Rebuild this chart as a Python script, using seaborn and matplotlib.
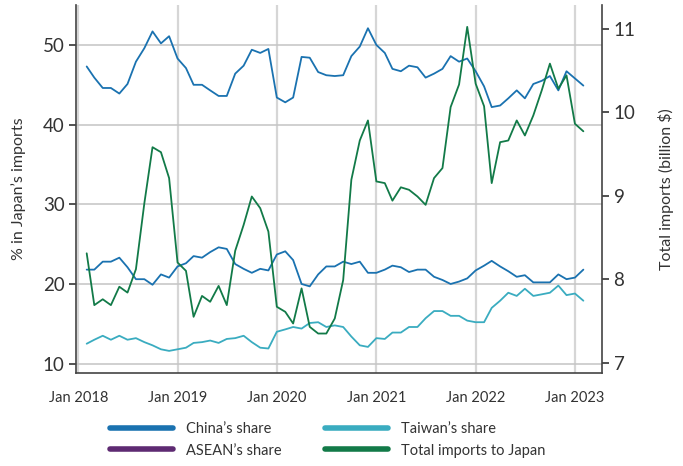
import pandas as pd
import matplotlib
matplotlib.use("Agg")
from matplotlib import pyplot as plt
import matplotlib.dates as mdates
from matplotlib.lines import Line2D
import seaborn as sns

# monthly data, Feb 2018 - Feb 2023
months = pd.date_range('2018-02-01', periods=61, freq='MS')

china = [47.3, 45.9, 44.6, 44.6, 43.9, 45.1, 47.9, 49.6, 51.7, 50.2, 51.1, 48.3,
         47.1, 45.0, 45.0, 44.3, 43.6, 43.6, 46.4, 47.4, 49.4, 49.0, 49.5, 43.4,
         42.8, 43.4, 48.5, 48.4, 46.6, 46.2, 46.1, 46.2, 48.6, 49.8, 52.1, 50.0,
         49.0, 47.0, 46.7, 47.4, 47.2, 45.9, 46.4, 47.0, 48.6, 47.9, 48.3, 46.7,
         44.8, 42.2, 42.4, 43.3, 44.3, 43.3, 45.1, 45.5, 46.1, 44.3, 46.7, 45.8, 44.9]

asean = [21.8, 21.8, 22.8, 22.8, 23.3, 22.1, 20.6, 20.6, 19.9, 21.2, 20.8, 22.2,
         22.6, 23.5, 23.3, 24.0, 24.6, 24.4, 22.5, 21.9, 21.4, 21.9, 21.7, 23.7,
         24.1, 23.0, 20.0, 19.7, 21.2, 22.2, 22.2, 22.8, 22.5, 22.8, 21.4, 21.4,
         21.8, 22.3, 22.1, 21.5, 21.8, 21.8, 20.9, 20.5, 20.0, 20.3, 20.7, 21.7,
         22.3, 22.9, 22.2, 21.6, 20.9, 21.1, 20.2, 20.2, 20.2, 21.2, 20.6, 20.8, 21.8]

taiwan = [12.5, 13.0, 13.5, 13.0, 13.5, 13.0, 13.2, 12.7, 12.3, 11.8, 11.6, 11.8,
          12.0, 12.6, 12.7, 12.9, 12.6, 13.1, 13.2, 13.5, 12.7, 12.0, 11.9, 14.0,
          14.3, 14.6, 14.4, 15.1, 15.2, 14.6, 14.8, 14.6, 13.4, 12.3, 12.1, 13.2,
          13.1, 13.9, 13.9, 14.6, 14.6, 15.7, 16.6, 16.6, 16.0, 16.0, 15.4, 15.2,
          15.2, 17.0, 17.9, 18.9, 18.5, 19.4, 18.5, 18.7, 18.9, 19.8, 18.6, 18.8, 17.9]

total = [8.31, 7.69, 7.76, 7.69, 7.91, 7.84, 8.12, 8.91, 9.58, 9.52, 9.21, 8.20,
         8.10, 7.55, 7.80, 7.73, 7.92, 7.69, 8.34, 8.65, 8.99, 8.85, 8.57, 7.67,
         7.61, 7.47, 7.89, 7.43, 7.35, 7.35, 7.53, 7.99, 9.19, 9.66, 9.90, 9.17,
         9.15, 8.94, 9.10, 9.07, 8.99, 8.89, 9.21, 9.33, 10.06, 10.33, 11.02, 10.34,
         10.07, 9.15, 9.64, 9.66, 9.90, 9.72, 9.96, 10.26, 10.58, 10.28, 10.44, 9.86, 9.77]

labels = ["China\u2019s share", "ASEAN\u2019s share", "Taiwan\u2019s share", "Total imports to Japan"]

c_china = '#1a72b0'
c_asean_leg = '#5e2a72'
c_taiwan = '#3aacc0'
c_total = '#127a48'
txt = '#333333'

df = pd.DataFrame({'month': months, 'china': china, 'asean': asean,
                   'taiwan': taiwan, 'total': total})

sns.set_style('white')
plt.rcParams['font.family'] = ['Lato', 'DejaVu Sans']

fig, ax = plt.subplots(figsize=(6.83, 4.66), dpi=100)
fig.subplots_adjust(left=0.111, right=0.882, bottom=0.2, top=0.989)
ax2 = ax.twinx()

# share lines on left axis
sns.lineplot(data=df, x='month', y='china', ax=ax, color=c_china, lw=1.3)
sns.lineplot(data=df, x='month', y='asean', ax=ax, color=c_china, lw=1.3)
sns.lineplot(data=df, x='month', y='taiwan', ax=ax, color=c_taiwan, lw=1.3)
# total imports on right axis
sns.lineplot(data=df, x='month', y='total', ax=ax2, color=c_total, lw=1.3)

ax.set_ylim(8.85, 55.0)
ax2.set_ylim(6.88, 11.28)
ax.set_xlim(pd.Timestamp('2017-12-23'), pd.Timestamp('2023-04-12'))
ax.set_yticks([10, 20, 30, 40, 50])
ax2.set_yticks([7, 8, 9, 10, 11])
xt = pd.to_datetime(['2018-01-01', '2019-01-01', '2020-01-01', '2021-01-01',
                     '2022-01-01', '2023-01-01'])
ax.set_xticks(xt)
ax.xaxis.set_major_formatter(mdates.DateFormatter('Jan %Y'))

ax.grid(axis='y', color='#c4c4c4', lw=1.1)
ax.grid(axis='x', color='#d6d6d6', lw=1.6)
ax.set_axisbelow(True)
ax2.grid(False)

for a in (ax, ax2):
    a.spines['top'].set_visible(False)
    for s in ('left', 'right', 'bottom'):
        a.spines[s].set_color('#444444')
        a.spines[s].set_linewidth(1.2)
ax.spines['right'].set_visible(False)
ax2.spines['left'].set_visible(False)
ax2.spines['bottom'].set_visible(False)

ax.tick_params(axis='y', labelsize=13.5, colors=txt, length=5, width=1.2, pad=3, left=True)
ax.tick_params(axis='x', labelsize=10.5, colors=txt, length=0, pad=13)
ax2.tick_params(axis='y', labelsize=13.5, colors=txt, length=5, width=1.2, pad=3, right=True)

ax.set_xlabel('')
ax.set_ylabel('% in Japan\u2019s imports', fontsize=11.5, color=txt, labelpad=12)
ax2.set_ylabel('Total imports (billion $)', fontsize=11.5, color=txt, labelpad=16)

handles = [Line2D([], [], color=c_china, lw=4),
           Line2D([], [], color=c_asean_leg, lw=4),
           Line2D([], [], color=c_taiwan, lw=4),
           Line2D([], [], color=c_total, lw=4)]
fig.legend(handles, labels, loc='center', bbox_to_anchor=(0.48, 0.056), ncol=2,
           frameon=False, fontsize=10.5, handlelength=4.3, columnspacing=3.0,
           labelspacing=0.5, handletextpad=0.9, labelcolor=txt)

plt.savefig('out.png', dpi=100)
